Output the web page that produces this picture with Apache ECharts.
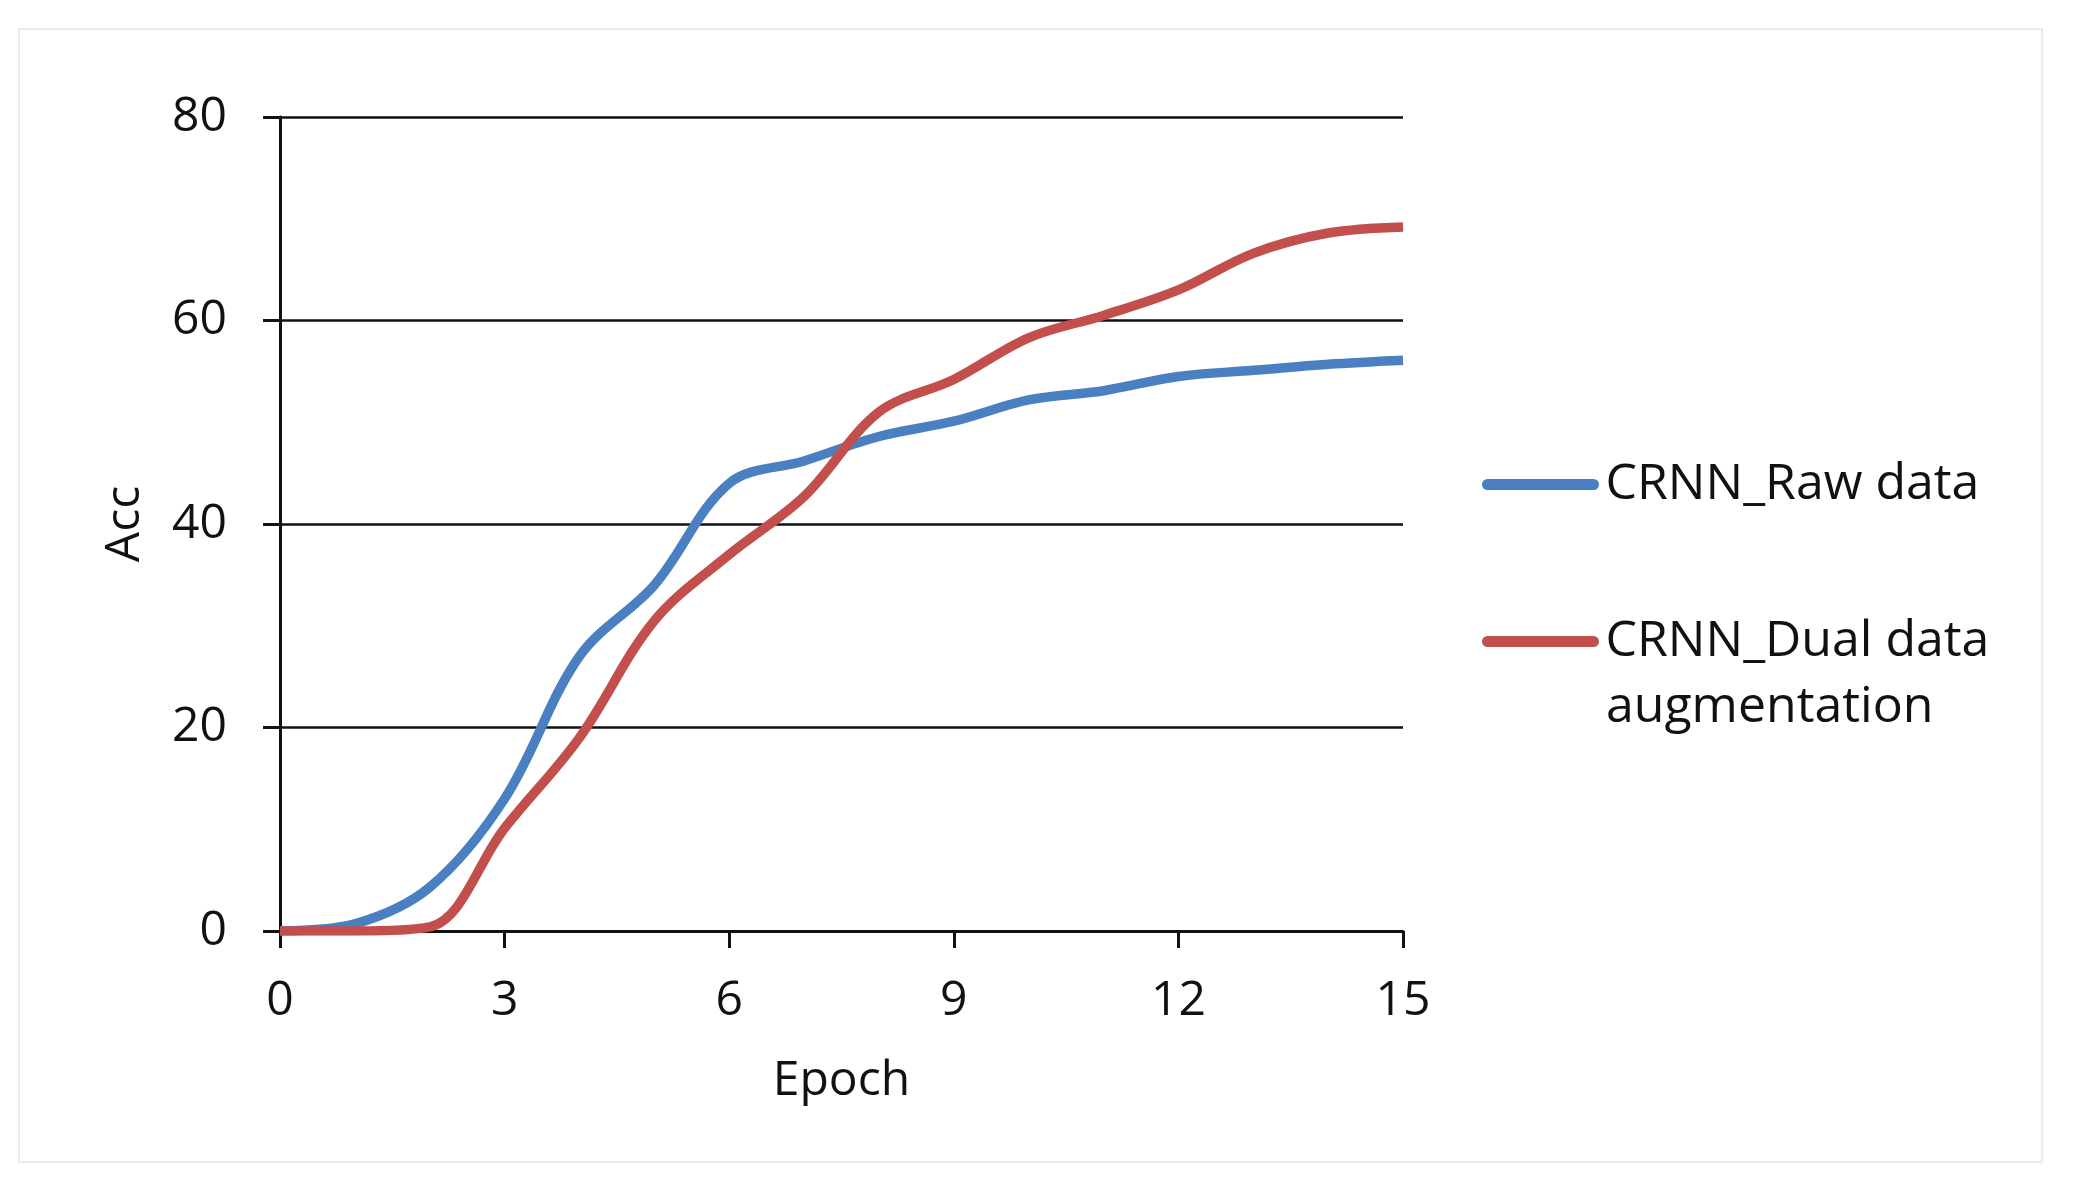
<!DOCTYPE html>
<html>
<head>
<meta charset="utf-8">
<script src="https://cdn.jsdelivr.net/npm/echarts@6/dist/echarts.min.js"></script>
<style>
  html, body { margin: 0; padding: 0; background: #fff; }
  #chart { width: 2079px; height: 1192px; }
</style>
</head>
<body>
<div id="chart"></div>
<script>
// epochs 0..15
var epochs = [0, 1, 2, 3, 4, 5, 6, 7, 8, 9, 10, 11, 12, 13, 14, 15];
var rawAcc = [0, 0.7, 4.3, 13, 27, 34, 44, 46.2, 48.6, 50.1, 52.2, 53.1, 54.5, 55.1, 55.7, 56.1];
var dualAcc = [0, 0, 0.4, 10.1, 19, 30.5, 37, 42.7, 51, 54.2, 58.3, 60.5, 63, 66.6, 68.6, 69.2];
var seriesNames = ['CRNN_Raw data', 'CRNN_Dual data augmentation'];
var seriesColors = ['#4A80C2', '#C24F4C'];

var font = 'Open Sans';

function pairs(ys) {
  return epochs.map(function (x, i) { return [x, ys[i]]; });
}

var chart = echarts.init(document.getElementById('chart'), null, { renderer: 'canvas' });

var options = {
  backgroundColor: '#fff',
  animation: false,
  textStyle: { fontFamily: font },
  grid: {
    left: 280,
    top: 117,
    width: 1123,
    height: 814,
    containLabel: false
  },
  legend: {
    orient: 'vertical',
    left: 1482,
    top: 452,
    padding: 0,
    itemGap: 92,
    itemWidth: 106,
    itemHeight: 11,
    data: seriesNames,
    lineStyle: { width: 11, cap: 'round' },
    textStyle: {
      fontFamily: font,
      fontSize: 50,
      color: '#111',
      lineHeight: 65,
      padding: [0, 0, 0, 7]
    },
    formatter: function (name) {
      // second line of the long name is drawn separately below
      return name === seriesNames[1] ? 'CRNN_Dual data' : name;
    }
  },
  graphic: [
    {
      type: 'text',
      left: 1606,
      top: 707 - 32,
      style: {
        text: 'augmentation',
        font: '50px "Open Sans"',
        fill: '#111',
        lineHeight: 65
      }
    },
    {
      type: 'rect',
      shape: { x: 19, y: 29, width: 2023, height: 1133 },
      style: { fill: 'none', stroke: '#ececec', lineWidth: 2 },
      z: -1
    }
  ],
  xAxis: {
    type: 'value',
    min: 0,
    max: 15,
    interval: 3,
    name: 'Epoch',
    nameLocation: 'middle',
    nameGap: 126,
    nameTextStyle: { fontFamily: font, fontSize: 48, color: '#111' },
    axisLine: { lineStyle: { color: '#111', width: 3 } },
    axisTick: { show: true, length: 17, lineStyle: { color: '#111', width: 3 } },
    axisLabel: { fontFamily: font, fontSize: 48, color: '#111', margin: 46 },
    splitLine: { show: false }
  },
  yAxis: {
    type: 'value',
    min: 0,
    max: 80,
    interval: 20,
    name: 'Acc',
    nameLocation: 'middle',
    nameGap: 131,
    nameTextStyle: { fontFamily: font, fontSize: 48, color: '#111' },
    axisLine: { show: true, lineStyle: { color: '#111', width: 3 } },
    axisTick: { show: true, length: 17, lineStyle: { color: '#111', width: 3 } },
    axisLabel: { fontFamily: font, fontSize: 48, color: '#111', margin: 53 },
    splitLine: { show: true, lineStyle: { color: '#111', width: 2.5 } }
  },
  series: [
    {
      name: seriesNames[0],
      type: 'line',
      data: pairs(rawAcc),
      smooth: 0.35,
      symbol: 'none',
      color: seriesColors[0],
      lineStyle: { width: 9.5, color: seriesColors[0] },
      z: 3
    },
    {
      name: seriesNames[1],
      type: 'line',
      data: pairs(dualAcc),
      smooth: 0.35,
      symbol: 'none',
      color: seriesColors[1],
      lineStyle: { width: 9.5, color: seriesColors[1] },
      z: 4
    }
  ]
};

chart.setOption(options);
</script>
</body>
</html>
